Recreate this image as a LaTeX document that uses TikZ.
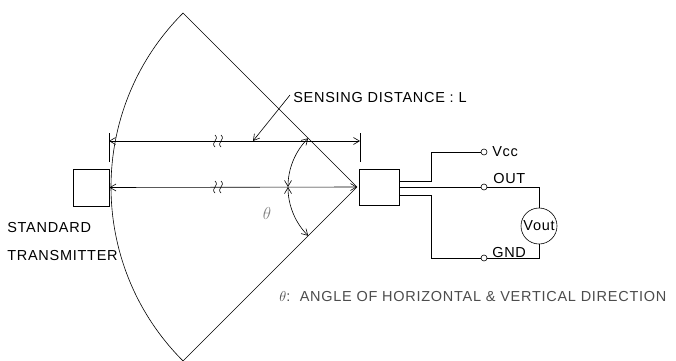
\documentclass[tikz,border=0pt]{standalone}
\usepackage{fontspec}
\setmainfont[LetterSpace=5]{Liberation Sans}
\usetikzlibrary{arrows.meta}
\tikzset{
  lbl/.style={font=\fontsize{14.5}{16}\selectfont, inner sep=0pt},
  term/.style={circle, draw, fill=white, inner sep=0pt, minimum size=6pt},
  dev/.style={draw, line width=0.9pt, inner sep=0pt},
}
\begin{document}
\begin{tikzpicture}[x=1pt,y=1pt,line width=0.6pt,>={Straight Barb[length=6pt,width=7pt]}]
\useasboundingbox (0,0) rectangle (676,360);

% transmitter and receiver
\node[dev, minimum width=36pt, minimum height=37pt] (tx) at (91,172.5) {};
\node[dev, minimum width=40pt, minimum height=36pt] (rx) at (379,173) {};
\coordinate (apex) at (357,173);

\scope % cone
\clip (0,0) rectangle (676,360);
\draw (apex) -- +(135:246) arc (135:225:246) -- (apex);
\endscope

% sensing distance
\coordinate (ext1) at (109,198); \coordinate (ext2) at (360,198);
\draw (ext1) -- +(0,29) (ext2) -- +(0,29);
\draw[<->] ([yshift=21pt]ext1) -- ([yshift=21pt]ext2);
\draw[<->] (tx.east) -- (apex);
\foreach \y in {173,219}
  \foreach \x in {215,221}
    \draw (\x,\y-6) .. controls (\x-5,\y-1) and (\x+5,\y+1) .. (\x,\y+6);

% angle
\coordinate (ang) at (288,173);
\draw[<->] (ang) arc (180:135:69);
\draw[<->] (ang) arc (180:225:69);
\node[text=gray, font=\fontsize{16}{18}\selectfont] (th) at (267,147) {$\theta$};

% leader
\node[lbl, anchor=west] (dist) at (293,262) {SENSING DISTANCE : L};
\coordinate (lead) at (253,219);
\draw[->] ([shift={(-3,3)}]dist.west) -- (lead);

% output circuit
\node[term] (vcc) at (484,208) {};
\node[term] (out) at (484,173) {};
\node[term] (gnd) at (484,102) {};
\node[lbl, circle, draw, minimum size=36pt] (vout) at (539,134) {Vout};
\draw ([yshift=6pt]rx.east) -| (431,208) -- (vcc);
\draw (rx.east) -- (out);
\draw ([yshift=-8pt]rx.east) -| (431,102) -- (gnd);
\draw (out) -| (vout);
\draw (vout) |- (gnd);

% labels
\node[lbl, anchor=west] (vcclbl) at (492,208) {Vcc};
\node[lbl, anchor=base west] (outlbl) at (493,177) {OUT};
\node[lbl, anchor=base west] (gndlbl) at (492,103) {GND};
\node[lbl, anchor=base west] (std) at (7,128) {STANDARD};
\node[lbl, anchor=base west] (trm) at (7,100) {TRANSMITTER};
\node[lbl, text=black!70, anchor=west] (note) at (279,63) {$\theta$:\ \ ANGLE OF HORIZONTAL \& VERTICAL DIRECTION};
\end{tikzpicture}
\end{document}
